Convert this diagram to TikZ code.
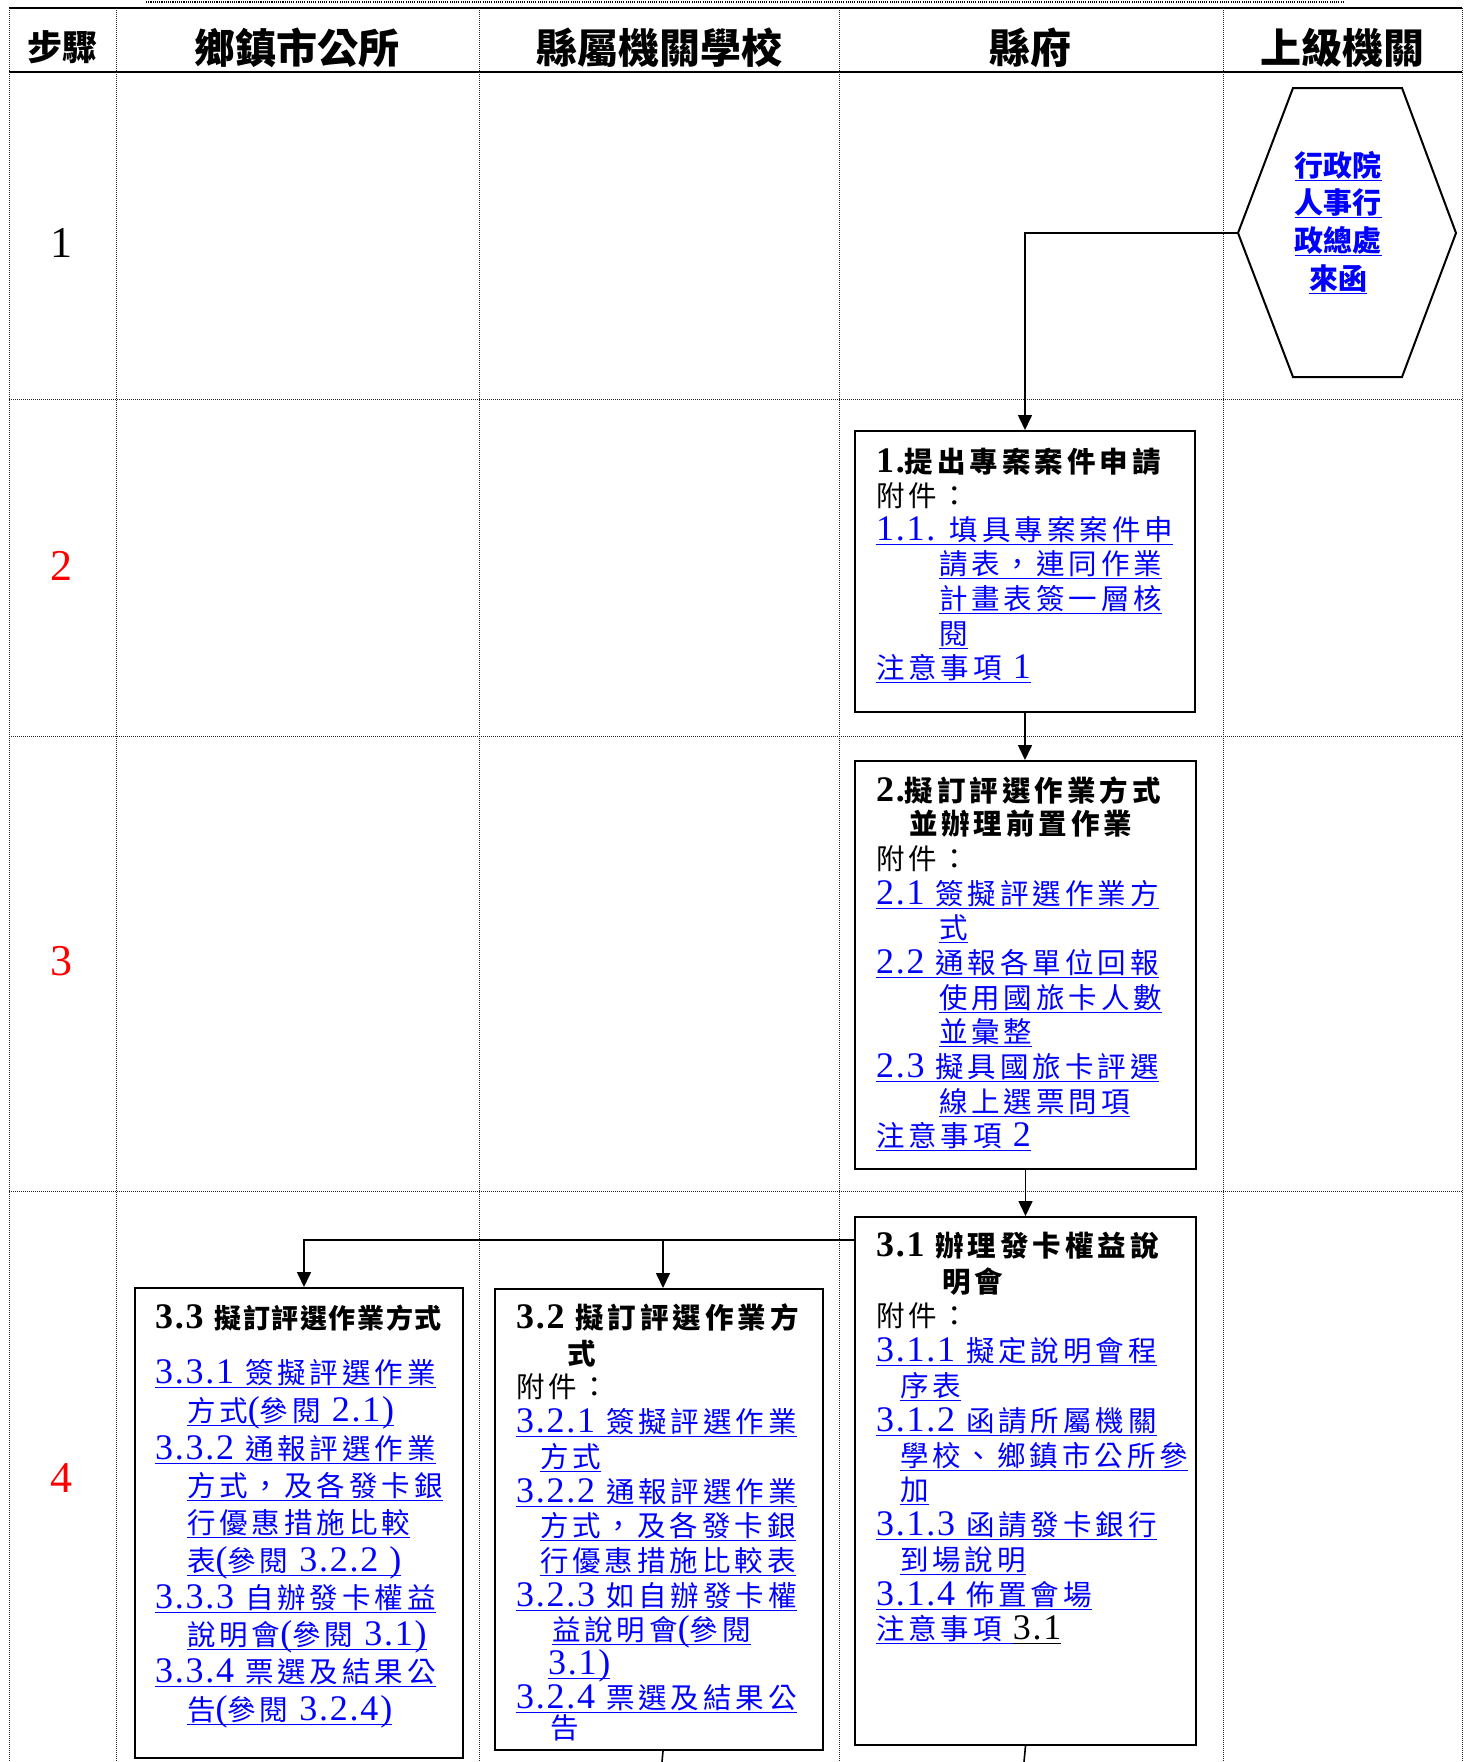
\documentclass[tikz,border=0pt]{standalone}
\usepackage{fontspec}
\usetikzlibrary{arrows.meta}
\newfontfamily\cj{Noto Sans CJK TC}[LetterSpace=14]
\newfontfamily\cjt{Noto Sans CJK TC}[LetterSpace=6]
\newfontfamily\cjn{Noto Sans CJK TC}
\newfontfamily\sr{Liberation Serif}
\newfontfamily\srs{Liberation Serif}[LetterSpace=5]
\newcommand\dg{\srs\fontsize{18pt}{17pt}\selectfont}
\newcommand\bodyfont{\cj\fontsize{14.25pt}{17pt}\selectfont}
\newsavebox\ulbox
\newcommand\ulb[1]{\sbox\ulbox{#1}\rlap{\rule[-2.6pt]{\wd\ulbox}{0.7pt}}\usebox\ulbox}
\tikzset{
  dot/.style={line width=0.5pt, dash pattern=on 0.5pt off 0.5pt, black!85},
  heavy/.style={line width=1pt},
  box/.style={draw, line width=1pt, inner sep=0pt, anchor=north west},
  ln/.style={anchor=base west, inner sep=0pt, outer sep=0pt, font=\bodyfont},
  lk/.style={ln, text=blue},
  tt/.style={ln, font=\bodyfont\bfseries},
  hd/.style={anchor=base, inner sep=0pt, font=\cjn\bfseries\fontsize{20.5pt}{24pt}\selectfont},
  hx/.style={anchor=base, inner sep=0pt, text=blue, font=\cjn\bfseries\fontsize{14.5pt}{17pt}\selectfont},
  stepnum/.style={anchor=base, inner sep=0pt, font=\sr\fontsize{22pt}{24pt}\selectfont},
  conn/.style={line width=0.8pt},
  arr/.style={conn, -{Triangle[length=7.5pt,width=7pt]}}
}
\begin{document}
\begin{tikzpicture}[x=0.5pt, y=-0.5pt]
\useasboundingbox (0,0) rectangle (1468,1762);
% table frame
\draw[line width=1.1pt, dash pattern=on 0.55pt off 0.55pt, black] (146,2) -- (1343,2);
\draw[heavy] (9,8) -- (1462,8);
\draw[heavy] (9,72) -- (1462,72);
\foreach \x in {9,116,479,839,1223,1462} \draw[dot] (\x,8) -- (\x,1762);
\foreach \y in {399,736,1191} \draw[dot] (9,\y) -- (1462,\y);
% headers
\node[hd, font=\cjn\bfseries\fontsize{17.5pt}{20pt}\selectfont] (h0) at (62,60) {步驟};
\node[hd] (h1) at (297,63) {鄉鎮市公所};
\node[hd] (h2) at (659,63) {縣屬機關學校};
\node[hd] (h3) at (1030,63) {縣府};
\node[hd] (h4) at (1342,63) {上級機關};
% step numbers
\node[stepnum] (s1) at (61,257) {1};
\node[stepnum, text=red] (s2) at (61,580) {2};
\node[stepnum, text=red] (s3) at (61,975) {3};
\node[stepnum, text=red] (s4) at (61,1492) {4};
% hexagon
\draw[line width=1pt] (1293,88) -- (1402,88) -- (1456,233) -- (1402,377) -- (1293,377) -- (1238,233) -- cycle;
\coordinate (hexL) at (1238,233);
\node[hx] (x1) at (1338,176) {\ulb{行政院}};
\node[hx] (x2) at (1338,213) {\ulb{人事行}};
\node[hx] (x3) at (1338,251) {\ulb{政總處}};
\node[hx] (x4) at (1338,289) {\ulb{來函}};
% boxes
\node[box, minimum width=170pt, minimum height=140.5pt] (b1) at (854,430) {};
\node[box, minimum width=170.5pt, minimum height=204pt] (b2) at (854,760) {};
\node[box, minimum width=170.5pt, minimum height=264pt] (b31) at (854,1216) {};
\node[box, minimum width=164pt, minimum height=230.5pt] (b32) at (494,1288) {};
\node[box, minimum width=164pt, minimum height=235pt] (b33) at (134,1287) {};
% box 1 text
\node[tt] (a1) at (876,472) {{\dg 1.}提出專案案件申請};
\node[ln] (a2) at (876,506) {附件：};
\node[lk] (a3) at (876,540) {\ulb{{\dg 1.1. }填具專案案件申}};
\node[lk] (a4) at (939,574) {\ulb{請表，連同作業}};
\node[lk] (a5) at (939,609) {\ulb{計畫表簽一層核}};
\node[lk] (a6) at (939,644) {\ulb{閱}};
\node[lk] (a7) at (876,678) {\ulb{注意事項{\dg\ 1}}};
% box 2 text
\node[tt] (c1) at (876,801) {{\dg 2.}擬訂評選作業方式};
\node[tt] (c2) at (909,834) {並辦理前置作業};
\node[ln] (c3) at (876,869) {附件：};
\node[lk] (c4) at (876,904) {\ulb{{\dg 2.1 }簽擬評選作業方}};
\node[lk] (c5) at (939,938) {\ulb{式}};
\node[lk] (c6) at (876,973) {\ulb{{\dg 2.2 }通報各單位回報}};
\node[lk] (c7) at (939,1008) {\ulb{使用國旅卡人數}};
\node[lk] (c8) at (939,1042) {\ulb{並彙整}};
\node[lk] (c9) at (876,1077) {\ulb{{\dg 2.3 }擬具國旅卡評選}};
\node[lk] (c10) at (939,1112) {\ulb{線上選票問項}};
\node[lk] (c11) at (876,1146) {\ulb{注意事項{\dg\ 2}}};
% box 3.1 text
\node[tt] (d1) at (876,1256) {{\dg 3.1 }辦理發卡權益說};
\node[tt] (d2) at (942,1292) {明會};
\node[ln] (d3) at (876,1326) {附件：};
\node[lk] (d4) at (876,1361) {\ulb{{\dg 3.1.1 }擬定說明會程}};
\node[lk] (d5) at (900,1396) {\ulb{序表}};
\node[lk] (d6) at (876,1431) {\ulb{{\dg 3.1.2 }函請所屬機關}};
\node[lk] (d7) at (900,1466) {\ulb{學校、鄉鎮市公所參}};
\node[lk] (d8) at (900,1500) {\ulb{加}};
\node[lk] (d9) at (876,1535) {\ulb{{\dg 3.1.3 }函請發卡銀行}};
\node[lk] (d10) at (900,1570) {\ulb{到場說明}};
\node[lk] (d11) at (876,1605) {\ulb{{\dg 3.1.4 }佈置會場}};
\node[lk] (d12) at (876,1639) {\ulb{注意事項{\dg\ }}{\color{black}\ulb{\dg 3.1}}};
% box 3.2 text
\node[tt] (e1) at (516,1328) {{\dg 3.2 }擬訂評選作業方};
\node[tt] (e2) at (567,1364) {式};
\node[ln] (e3) at (516,1397) {附件：};
\node[lk] (e4) at (516,1432) {\ulb{{\dg 3.2.1 }簽擬評選作業}};
\node[lk] (e5) at (540,1467) {\ulb{方式}};
\node[lk] (e6) at (516,1502) {\ulb{{\dg 3.2.2 }通報評選作業}};
\node[lk] (e7) at (540,1536) {\ulb{方式，及各發卡銀}};
\node[lk] (e8) at (540,1571) {\ulb{行優惠措施比較表}};
\node[lk] (e9) at (516,1606) {\ulb{{\dg 3.2.3 }如自辦發卡權}};
\node[lk] (e10) at (552,1640) {\ulb{益說明會{\dg (}參閱}};
\node[lk] (e11) at (548,1674) {\ulb{\dg 3.1)}};
\node[lk] (e12) at (516,1708) {\ulb{{\dg 3.2.4 }票選及結果公}};
\node[lk] (e13) at (550,1738) {告};
% box 3.3 text
\node[tt, font=\cjt\bfseries\fontsize{13.5pt}{17pt}\selectfont] (f1) at (155,1328) {{\dg 3.3 }擬訂評選作業方式};
\node[lk] (f2) at (155,1383) {\ulb{{\dg 3.3.1 }簽擬評選作業}};
\node[lk] (f3) at (187,1421) {\ulb{方式{\dg (}參閱{\dg\ 2.1)}}};
\node[lk] (f4) at (155,1459) {\ulb{{\dg 3.3.2 }通報評選作業}};
\node[lk] (f5) at (187,1496) {\ulb{方式，及各發卡銀}};
\node[lk] (f6) at (187,1533) {\ulb{行優惠措施比較}};
\node[lk] (f7) at (187,1571) {\ulb{表{\dg (}參閱{\dg\ 3.2.2 )}}};
\node[lk] (f8) at (155,1608) {\ulb{{\dg 3.3.3 }自辦發卡權益}};
\node[lk] (f9) at (187,1645) {\ulb{說明會{\dg (}參閱{\dg\ 3.1)}}};
\node[lk] (f10) at (155,1682) {\ulb{{\dg 3.3.4 }票選及結果公}};
\node[lk] (f11) at (187,1720) {\ulb{告{\dg (}參閱{\dg\ 3.2.4)}}};
% connectors
\draw[arr] (hexL) -| (b1.north);
\draw[arr] (b1.south) -- (b1.south |- b2.north);
\draw[arr] (b2.south) -- (b2.south |- b31.north);
\coordinate (j) at (854,1240);
\draw[arr] (j) -| ([xshift=2.5pt]b33.north);
\draw[arr] ([xshift=2pt]b32.north |- j) -- ([xshift=2pt]b32.north);
\coordinate (z1) at (662,1762);
\coordinate (z2) at (1024,1762);
\draw[conn] ([xshift=2pt]b32.south) -- (z1);
\draw[conn] (b31.south) -- (z2);
\end{tikzpicture}
\end{document}
